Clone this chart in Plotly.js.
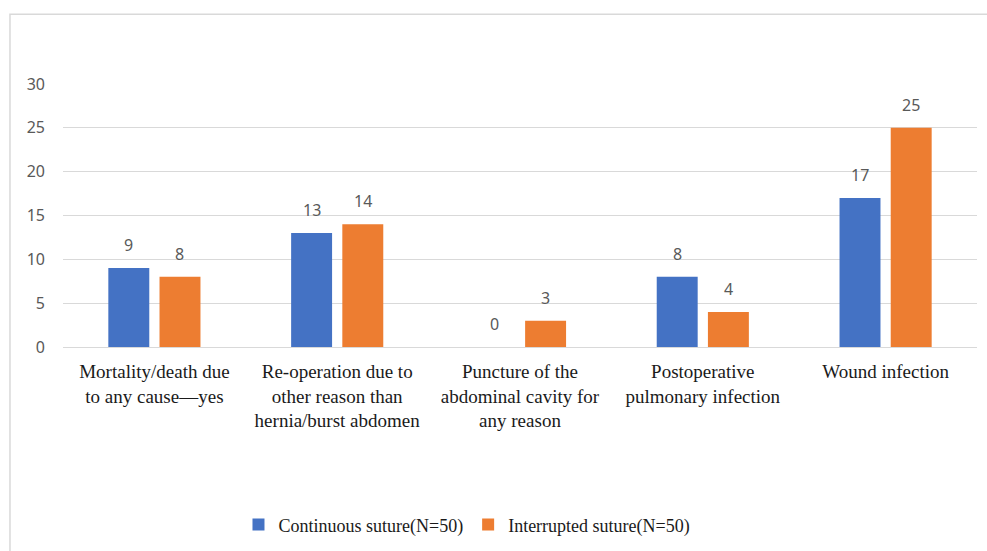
<!DOCTYPE html>
<html>
<head>
<meta charset="utf-8">
<script src="https://cdn.plot.ly/plotly-3.0.1.min.js"></script>
<style>
html,body{margin:0;padding:0;background:#fff;}
#chart{width:987px;height:551px;}
</style>
</head>
<body>
<div id="chart"></div>
<script>
const categories = [
  "Mortality/death due<br>to any cause—yes",
  "Re-operation due to<br>other reason than<br>hernia/burst abdomen",
  "Puncture of the<br>abdominal cavity for<br>any reason",
  "Postoperative<br>pulmonary infection",
  "Wound infection"
];
const continuous = [9, 13, 0, 8, 17];
const interrupted = [8, 14, 3, 4, 25];
const seriesNames = ["Continuous suture(N=50)", "Interrupted suture(N=50)"];
const yTicks = [0, 5, 10, 15, 20, 25, 30];

const blue = "#4472C4", orange = "#ED7D31";

const traces = [
  {type: "bar", name: seriesNames[0], x: categories, y: continuous, marker: {color: blue}, hoverinfo: "none"},
  {type: "bar", name: seriesNames[1], x: categories, y: interrupted, marker: {color: orange}, hoverinfo: "none"}
];

const annotations = [];
[continuous, interrupted].forEach((vals, s) => {
  vals.forEach((v, i) => {
    annotations.push({
      x: categories[i], y: v, xref: "x", yref: "y",
      text: String(v), showarrow: false,
      xshift: s === 0 ? -25.5 : 25.5, yshift: 23, yanchor: "middle",
      font: {family: "Noto Sans, sans-serif", size: 16, color: "#595959"}
    });
  });
});

const layout = {
  width: 987, height: 551,
  margin: {l: 63, r: 10, t: 84, b: 203},
  paper_bgcolor: "#fff", plot_bgcolor: "#fff",
  barmode: "group", bargap: 0.44, bargroupgap: 0.2,
  showlegend: true,
  legend: {orientation: "h", x: 0.442, xanchor: "center", y: -0.67, yanchor: "middle",
    font: {family: "Liberation Serif, Times New Roman, serif", size: 18, color: "#1a1a1a"},
    itemwidth: 30, tracegroupgap: 0},
  xaxis: {
    type: "category", showgrid: false, zeroline: false, showline: false, ticks: "",
    tickfont: {family: "Liberation Serif, Times New Roman, serif", size: 19, color: "#1a1a1a"},
    ticklabelstandoff: 11, fixedrange: true
  },
  yaxis: {
    range: [0, 30], tickvals: yTicks, ticktext: yTicks.map(String),
    showgrid: true, gridcolor: "#d9d9d9", gridwidth: 1,
    zeroline: true, zerolinecolor: "#d9d9d9", zerolinewidth: 1,
    showline: false, ticks: "",
    tickfont: {family: "Noto Sans, sans-serif", size: 16, color: "#595959"},
    ticklabelstandoff: 17, fixedrange: true
  },
  annotations: annotations,
  shapes: [{
    type: "rect", xref: "paper", yref: "paper",
    x0: -0.058, x1: 1.02, y0: -0.78, y1: 1.265,
    line: {color: "#d9d9d9", width: 1.5}, fillcolor: "rgba(0,0,0,0)", layer: "below"
  }]
};

Plotly.newPlot("chart", traces, layout, {displayModeBar: false, staticPlot: true});
</script>
</body>
</html>
